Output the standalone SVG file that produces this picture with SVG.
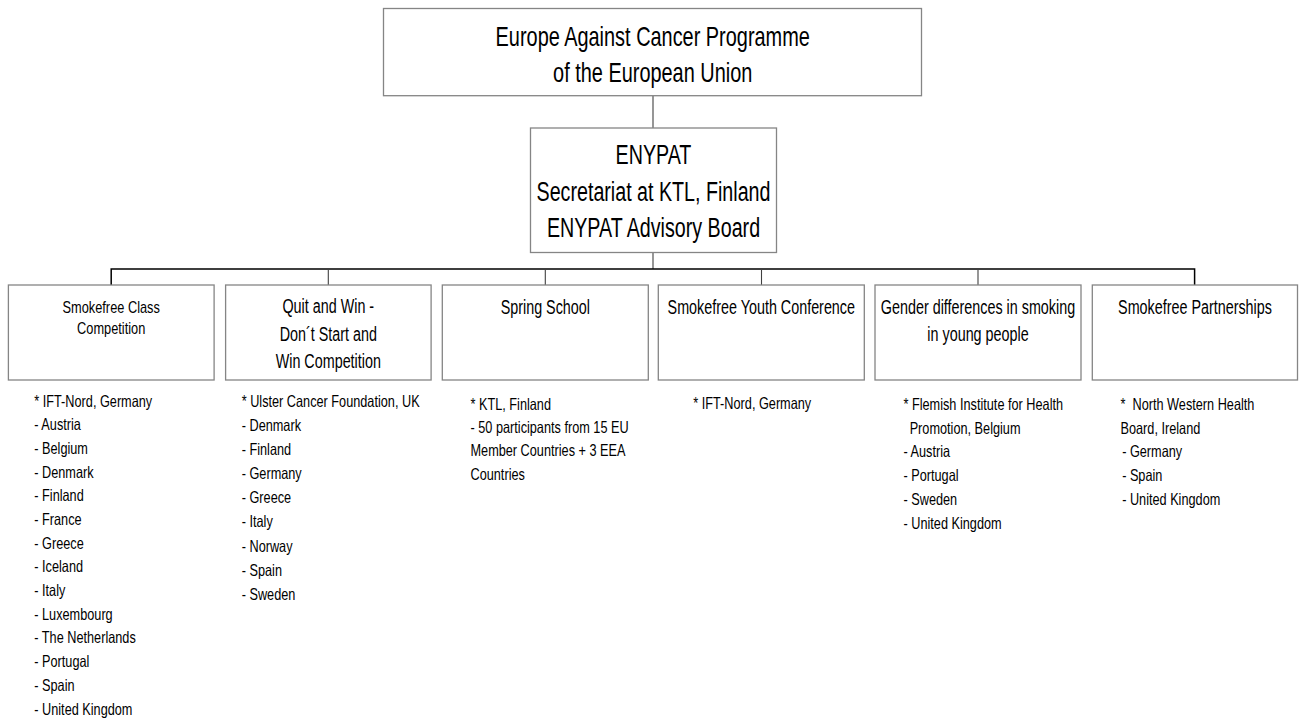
<svg xmlns="http://www.w3.org/2000/svg" width="1299" height="722" viewBox="0 0 1299 722">
<style>
  .box { fill: #ffffff; stroke: #858585; stroke-width: 1.3; }
  .bus { fill: none; stroke: #000000; stroke-width: 1.5; }
  .drop { fill: none; stroke: #404040; stroke-width: 1.1; }
  text { font-family: "Liberation Sans", Arial, sans-serif; fill: #000000; }
  .h1 { font-size: 24px; text-anchor: middle; }
  .h2 { font-size: 17.5px; text-anchor: middle; }
  .h3 { font-size: 15.6px; text-anchor: middle; }
  .li { font-size: 15.5px; }
</style>
<rect width="1299" height="722" fill="#ffffff"/>

<g id="connectors">
  <line class="drop" x1="653" y1="95.7" x2="653" y2="128"/>
  <line class="drop" x1="653" y1="252.5" x2="653" y2="269"/>
  <polyline class="bus" points="111.2,285 111.2,269 1194.6,269 1194.6,285"/>
  <line class="drop" x1="328.3" y1="269" x2="328.3" y2="285"/>
  <line class="drop" x1="545.3" y1="269" x2="545.3" y2="285"/>
  <line class="drop" x1="761.5" y1="269" x2="761.5" y2="285"/>
  <line class="drop" x1="978" y1="269" x2="978" y2="285"/>
</g>

<g id="node-programme">
  <rect class="box" x="383.5" y="8.5" width="538" height="87.2"/>
  <text class="h1" transform="translate(652.7 45.5) scale(0.83 1.12)"><tspan x="0" y="0">Europe Against Cancer Programme</tspan><tspan x="0" y="33">of the European Union</tspan></text>
</g>

<g id="node-enypat">
  <rect class="box" x="530.5" y="128" width="246" height="124.5"/>
  <text class="h1" transform="translate(653.5 163.5) scale(0.82 1.15)"><tspan x="0" y="0">ENYPAT</tspan><tspan x="0" y="33">Secretariat at KTL, Finland</tspan><tspan x="0" y="64.3">ENYPAT Advisory Board</tspan></text>
</g>

<g id="node-smokefree-class">
  <rect class="box" x="8.4" y="285" width="205.7" height="95"/>
  <text class="h3" transform="translate(111.2 312.7) scale(0.82 1.1)"><tspan x="0" y="0">Smokefree Class</tspan><tspan x="0" y="19.6">Competition</tspan></text>
  <text class="li" transform="translate(34.3 406.5) scale(0.82 1.05)">
    <tspan x="0" y="0">* IFT-Nord, Germany</tspan>
    <tspan x="0" y="22.57">- Austria</tspan>
    <tspan x="0" y="45.14">- Belgium</tspan>
    <tspan x="0" y="67.71">- Denmark</tspan>
    <tspan x="0" y="90.29">- Finland</tspan>
    <tspan x="0" y="112.86">- France</tspan>
    <tspan x="0" y="135.43">- Greece</tspan>
    <tspan x="0" y="158">- Iceland</tspan>
    <tspan x="0" y="180.57">- Italy</tspan>
    <tspan x="0" y="203.14">- Luxembourg</tspan>
    <tspan x="0" y="225.71">- The Netherlands</tspan>
    <tspan x="0" y="248.29">- Portugal</tspan>
    <tspan x="0" y="270.86">- Spain</tspan>
    <tspan x="0" y="293.43">- United Kingdom</tspan>
  </text>
</g>

<g id="node-quit-and-win">
  <rect class="box" x="225.6" y="285" width="205.5" height="95"/>
  <text class="h2" transform="translate(328.3 313.3) scale(0.82 1.15)"><tspan x="0" y="0">Quit and Win -</tspan><tspan x="0" y="24">Don´t Start and</tspan><tspan x="0" y="48">Win Competition</tspan></text>
  <text class="li" transform="translate(241.7 406.5) scale(0.82 1.05)">
    <tspan x="0" y="0">* Ulster Cancer Foundation, UK</tspan>
    <tspan x="0" y="23.05">- Denmark</tspan>
    <tspan x="0" y="46.1">- Finland</tspan>
    <tspan x="0" y="69.14">- Germany</tspan>
    <tspan x="0" y="92.19">- Greece</tspan>
    <tspan x="0" y="115.24">- Italy</tspan>
    <tspan x="0" y="138.29">- Norway</tspan>
    <tspan x="0" y="161.33">- Spain</tspan>
    <tspan x="0" y="184.38">- Sweden</tspan>
  </text>
</g>

<g id="node-spring-school">
  <rect class="box" x="442.3" y="285" width="206" height="95"/>
  <text class="h2" transform="translate(545.3 313.5) scale(0.82 1.15)"><tspan x="0" y="0">Spring School</tspan></text>
  <text class="li" transform="translate(470.5 410) scale(0.82 1.05)">
    <tspan x="0" y="0">* KTL, Finland</tspan>
    <tspan x="0" y="22.3">- 50 participants from 15 EU</tspan>
    <tspan x="0" y="43.8">Member Countries + 3 EEA</tspan>
    <tspan x="0" y="66.6">Countries</tspan>
  </text>
</g>

<g id="node-youth-conference">
  <rect class="box" x="658.3" y="285" width="206" height="95"/>
  <text class="h2" transform="translate(761.3 313.5) scale(0.82 1.15)"><tspan x="0" y="0">Smokefree Youth Conference</tspan></text>
  <text class="li" transform="translate(693.3 409) scale(0.82 1.05)"><tspan x="0" y="0">* IFT-Nord, Germany</tspan></text>
</g>

<g id="node-gender-differences">
  <rect class="box" x="875" y="285" width="206" height="95"/>
  <text class="h2" transform="translate(978 314) scale(0.82 1.15)"><tspan x="0" y="0">Gender differences in smoking</tspan><tspan x="0" y="23.5">in young people</tspan></text>
  <text class="li" transform="translate(903.5 410) scale(0.82 1.05)">
    <tspan x="0" y="0">* Flemish Institute for Health</tspan>
    <tspan x="7.5" y="22.86">Promotion, Belgium</tspan>
    <tspan x="0" y="44.76">- Austria</tspan>
    <tspan x="0" y="67.62">- Portugal</tspan>
    <tspan x="0" y="90.48">- Sweden</tspan>
    <tspan x="0" y="113.33">- United Kingdom</tspan>
  </text>
</g>

<g id="node-partnerships">
  <rect class="box" x="1092.3" y="285" width="205.2" height="95"/>
  <text class="h2" transform="translate(1195 314) scale(0.82 1.15)"><tspan x="0" y="0">Smokefree Partnerships</tspan></text>
  <text class="li" transform="translate(1120.5 410) scale(0.82 1.05)">
    <tspan x="0" y="0">*&#160; North Western Health</tspan>
    <tspan x="0" y="22.86">Board, Ireland</tspan>
    <tspan x="2" y="44.76">- Germany</tspan>
    <tspan x="2" y="67.62">- Spain</tspan>
    <tspan x="2" y="90.48">- United Kingdom</tspan>
  </text>
</g>
</svg>
